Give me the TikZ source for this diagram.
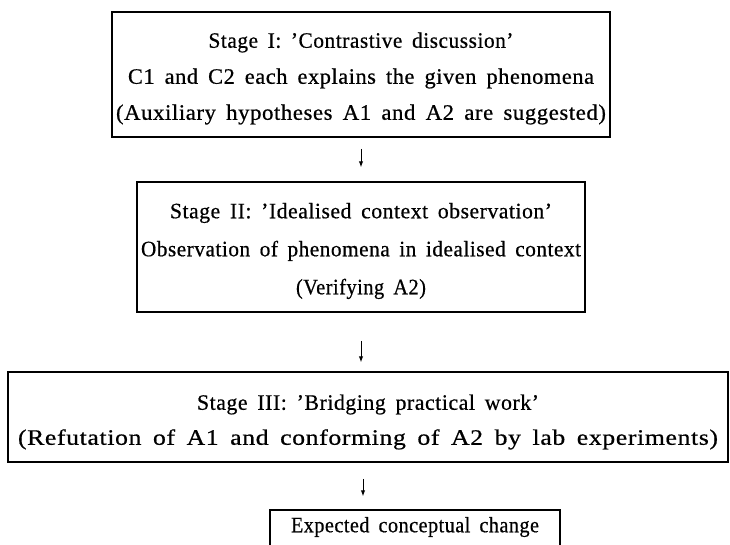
\documentclass[tikz,border=0pt]{standalone}
\usepackage{fontspec}
\usepackage{graphicx}
\setmainfont{Liberation Serif}[LetterSpace=2.5,FakeBold=0.6]
\usetikzlibrary{arrows.meta}
\newcommand\stagefont[2]{\fontsize{#1}{#2}\selectfont\spaceskip=0.45em plus 0.1em\relax}
\newcommand\fitline[2]{\resizebox{#1}{\height}{#2}}
\begin{document}
\begin{tikzpicture}[x=1pt,y=-1pt,
  stagebox/.style={draw, line width=1.5pt, inner sep=0pt},
  stagetext/.style={inner sep=0pt, align=center},
  flow/.style={line width=1pt, -{Latex[length=6pt,width=4.5pt]}}]
\useasboundingbox (0,0) rectangle (730,544);
\node[stagebox, minimum width=498pt, minimum height=125pt] (b1) at (361,74.5) {};
\node[stagetext, font=\stagefont{22}{36}] (t1) at ([yshift=-4pt]b1.center)
  {\fitline{305pt}{Stage I: 'Contrastive discussion'}\\
   \fitline{466pt}{C1 and C2 each explains the given phenomena}\\
   \fitline{490pt}{(Auxiliary hypotheses A1 and A2 are suggested)}};
\node[stagebox, minimum width=448pt, minimum height=130pt] (b2) at (361,247) {};
\node[stagetext, font=\stagefont{22}{38}] (t2) at ([yshift=-4pt]b2.center)
  {\fitline{382pt}{Stage II: 'Idealised context observation'}\\
   \fitline{440pt}{Observation of phenomena in idealised context}\\
   \fitline{130pt}{(Verifying A2)}};
\node[stagebox, minimum width=720pt, minimum height=90pt] (b3) at (368,417) {};
\node[stagetext, font=\stagefont{22}{35}] (t3) at ([yshift=-5pt]b3.center)
  {\fitline{342pt}{Stage III: 'Bridging practical work'}\\
   \fitline{700pt}{(Refutation of A1 and conforming of A2 by lab experiments)}};
\node[stagebox, minimum width=290pt, minimum height=70pt] (b4) at (415,545) {};
\node[stagetext, font=\stagefont{22}{36}] (t4) at (415,527)
  {\fitline{248pt}{Expected conceptual change}};
\draw[flow] ([yshift=-11pt]b1.south) -- ([yshift=14pt]b2.north);
\draw[flow] ([yshift=-28pt]b2.south) -- ([xshift=-7pt,yshift=9pt]b3.north);
\draw[flow] ([xshift=-5pt,yshift=-16pt]b3.south) -- ([xshift=-52pt,yshift=13pt]b4.north);
\end{tikzpicture}
\end{document}
